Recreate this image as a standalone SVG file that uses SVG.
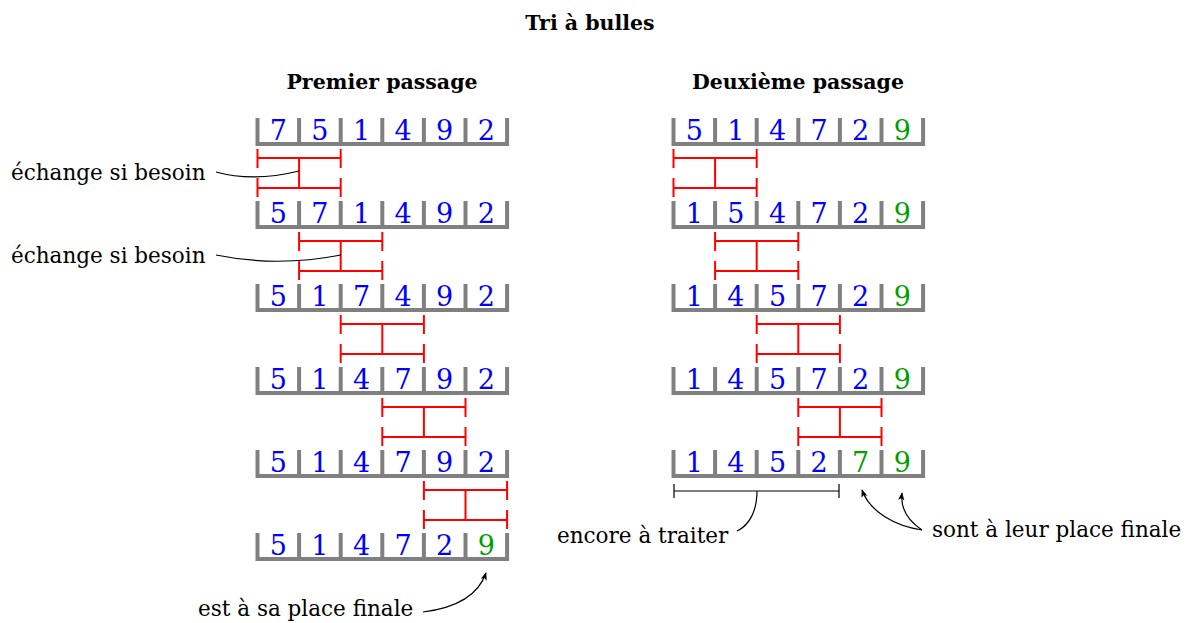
<svg xmlns="http://www.w3.org/2000/svg" width="1191" height="623" viewBox="0 0 1191 623">
<defs>
<style>
.title{font-family:"DejaVu Serif","Liberation Serif",serif;font-weight:bold;font-size:20.5px;text-anchor:middle;fill:#000}
.lbl{font-family:"DejaVu Serif","Liberation Serif",serif;font-size:21.5px;fill:#000}
.d{font-family:"DejaVu Serif","Liberation Serif",serif;font-size:27px;text-anchor:middle;fill:#0000ff}
.g{fill:#00a000}
.box{fill:none;stroke:#808080;stroke-width:4}
.br{fill:none;stroke:#ff0000;stroke-width:2}
.cn{fill:none;stroke:#000;stroke-width:1.2}
</style>
<marker id="ah" viewBox="0 0 10 10" refX="9" refY="5" markerWidth="8" markerHeight="8" orient="auto" markerUnits="userSpaceOnUse">
<path d="M0,1 L10,5 L0,9 L2.5,5 Z" fill="#000"/>
</marker>
<g id="cells">
<path class="box" d="M0,0 V27 M41.6,0 V27 M83.2,0 V27 M124.8,0 V27 M166.4,0 V27 M208,0 V27 M249.6,0 V27 M-2,26 H251.6"/>
</g>
<g id="brk">
<path class="br" d="M0,0 H83.2 M0,30 H83.2 M41.6,0 V30 M0,-9 V10 M83.2,-9 V10 M0,20 V39 M83.2,20 V39"/>
</g>
</defs>
<rect width="1191" height="623" fill="#fff"/>

<g id="titles">
<text class="title" x="590" y="30">Tri à bulles</text>
<text class="title" x="382" y="89">Premier passage</text>
<text class="title" x="798" y="89">Deuxième passage</text>
</g>

<g id="left-pass">
<g id="L1"><use href="#cells" x="257.5" y="118"/>
<text class="d" y="140"><tspan x="278.3">7</tspan><tspan x="319.9">5</tspan><tspan x="361.5">1</tspan><tspan x="403.1">4</tspan><tspan x="444.7">9</tspan><tspan x="486.3">2</tspan></text></g>
<g id="L2"><use href="#cells" x="257.5" y="201"/>
<text class="d" y="223"><tspan x="278.3">5</tspan><tspan x="319.9">7</tspan><tspan x="361.5">1</tspan><tspan x="403.1">4</tspan><tspan x="444.7">9</tspan><tspan x="486.3">2</tspan></text></g>
<g id="L3"><use href="#cells" x="257.5" y="284"/>
<text class="d" y="306"><tspan x="278.3">5</tspan><tspan x="319.9">1</tspan><tspan x="361.5">7</tspan><tspan x="403.1">4</tspan><tspan x="444.7">9</tspan><tspan x="486.3">2</tspan></text></g>
<g id="L4"><use href="#cells" x="257.5" y="367"/>
<text class="d" y="389"><tspan x="278.3">5</tspan><tspan x="319.9">1</tspan><tspan x="361.5">4</tspan><tspan x="403.1">7</tspan><tspan x="444.7">9</tspan><tspan x="486.3">2</tspan></text></g>
<g id="L5"><use href="#cells" x="257.5" y="450"/>
<text class="d" y="472"><tspan x="278.3">5</tspan><tspan x="319.9">1</tspan><tspan x="361.5">4</tspan><tspan x="403.1">7</tspan><tspan x="444.7">9</tspan><tspan x="486.3">2</tspan></text></g>
<g id="L6"><use href="#cells" x="257.5" y="533"/>
<text class="d" y="555"><tspan x="278.3">5</tspan><tspan x="319.9">1</tspan><tspan x="361.5">4</tspan><tspan x="403.1">7</tspan><tspan x="444.7">2</tspan><tspan x="486.3" class="g">9</tspan></text></g>
</g>

<g id="right-pass">
<g id="R1"><use href="#cells" x="673.5" y="118"/>
<text class="d" y="140"><tspan x="694.3">5</tspan><tspan x="735.9">1</tspan><tspan x="777.5">4</tspan><tspan x="819.1">7</tspan><tspan x="860.7">2</tspan><tspan x="902.3" class="g">9</tspan></text></g>
<g id="R2"><use href="#cells" x="673.5" y="201"/>
<text class="d" y="223"><tspan x="694.3">1</tspan><tspan x="735.9">5</tspan><tspan x="777.5">4</tspan><tspan x="819.1">7</tspan><tspan x="860.7">2</tspan><tspan x="902.3" class="g">9</tspan></text></g>
<g id="R3"><use href="#cells" x="673.5" y="284"/>
<text class="d" y="306"><tspan x="694.3">1</tspan><tspan x="735.9">4</tspan><tspan x="777.5">5</tspan><tspan x="819.1">7</tspan><tspan x="860.7">2</tspan><tspan x="902.3" class="g">9</tspan></text></g>
<g id="R4"><use href="#cells" x="673.5" y="367"/>
<text class="d" y="389"><tspan x="694.3">1</tspan><tspan x="735.9">4</tspan><tspan x="777.5">5</tspan><tspan x="819.1">7</tspan><tspan x="860.7">2</tspan><tspan x="902.3" class="g">9</tspan></text></g>
<g id="R5"><use href="#cells" x="673.5" y="450"/>
<text class="d" y="472"><tspan x="694.3">1</tspan><tspan x="735.9">4</tspan><tspan x="777.5">5</tspan><tspan x="819.1">2</tspan><tspan x="860.7" class="g">7</tspan><tspan x="902.3" class="g">9</tspan></text></g>
</g>

<g id="connectors">
<use href="#brk" x="257.5" y="158"/>
<use href="#brk" x="299.1" y="241"/>
<use href="#brk" x="340.7" y="324"/>
<use href="#brk" x="382.3" y="407"/>
<use href="#brk" x="423.9" y="490"/>
<use href="#brk" x="673.5" y="158"/>
<use href="#brk" x="715.1" y="241"/>
<use href="#brk" x="756.7" y="324"/>
<use href="#brk" x="798.3" y="407"/>
<path class="cn" d="M216,172 C245,180 275,177 299,171"/>
<path class="cn" d="M216,255 C260,264 305,262 341,255"/>
<path class="cn" d="M423,612 C455,608 478,596 486,573" marker-end="url(#ah)"/>
<path class="cn" d="M674,491 H839 M674,484 V498 M839,484 V498"/>
<path class="cn" d="M757,491 C757,510 750,525 737,531"/>
<path class="cn" d="M922,530 C895,526 870,512 862,490" marker-end="url(#ah)"/>
<path class="cn" d="M922,530 C910,522 900,510 902,493" marker-end="url(#ah)"/>
</g>

<g id="labels">
<text class="lbl" x="11" y="180">échange si besoin</text>
<text class="lbl" x="11" y="263">échange si besoin</text>
<text class="lbl" x="198" y="616">est à sa place finale</text>
<text class="lbl" x="557" y="543">encore à traiter</text>
<text class="lbl" x="932" y="537">sont à leur place finale</text>
</g>
</svg>
